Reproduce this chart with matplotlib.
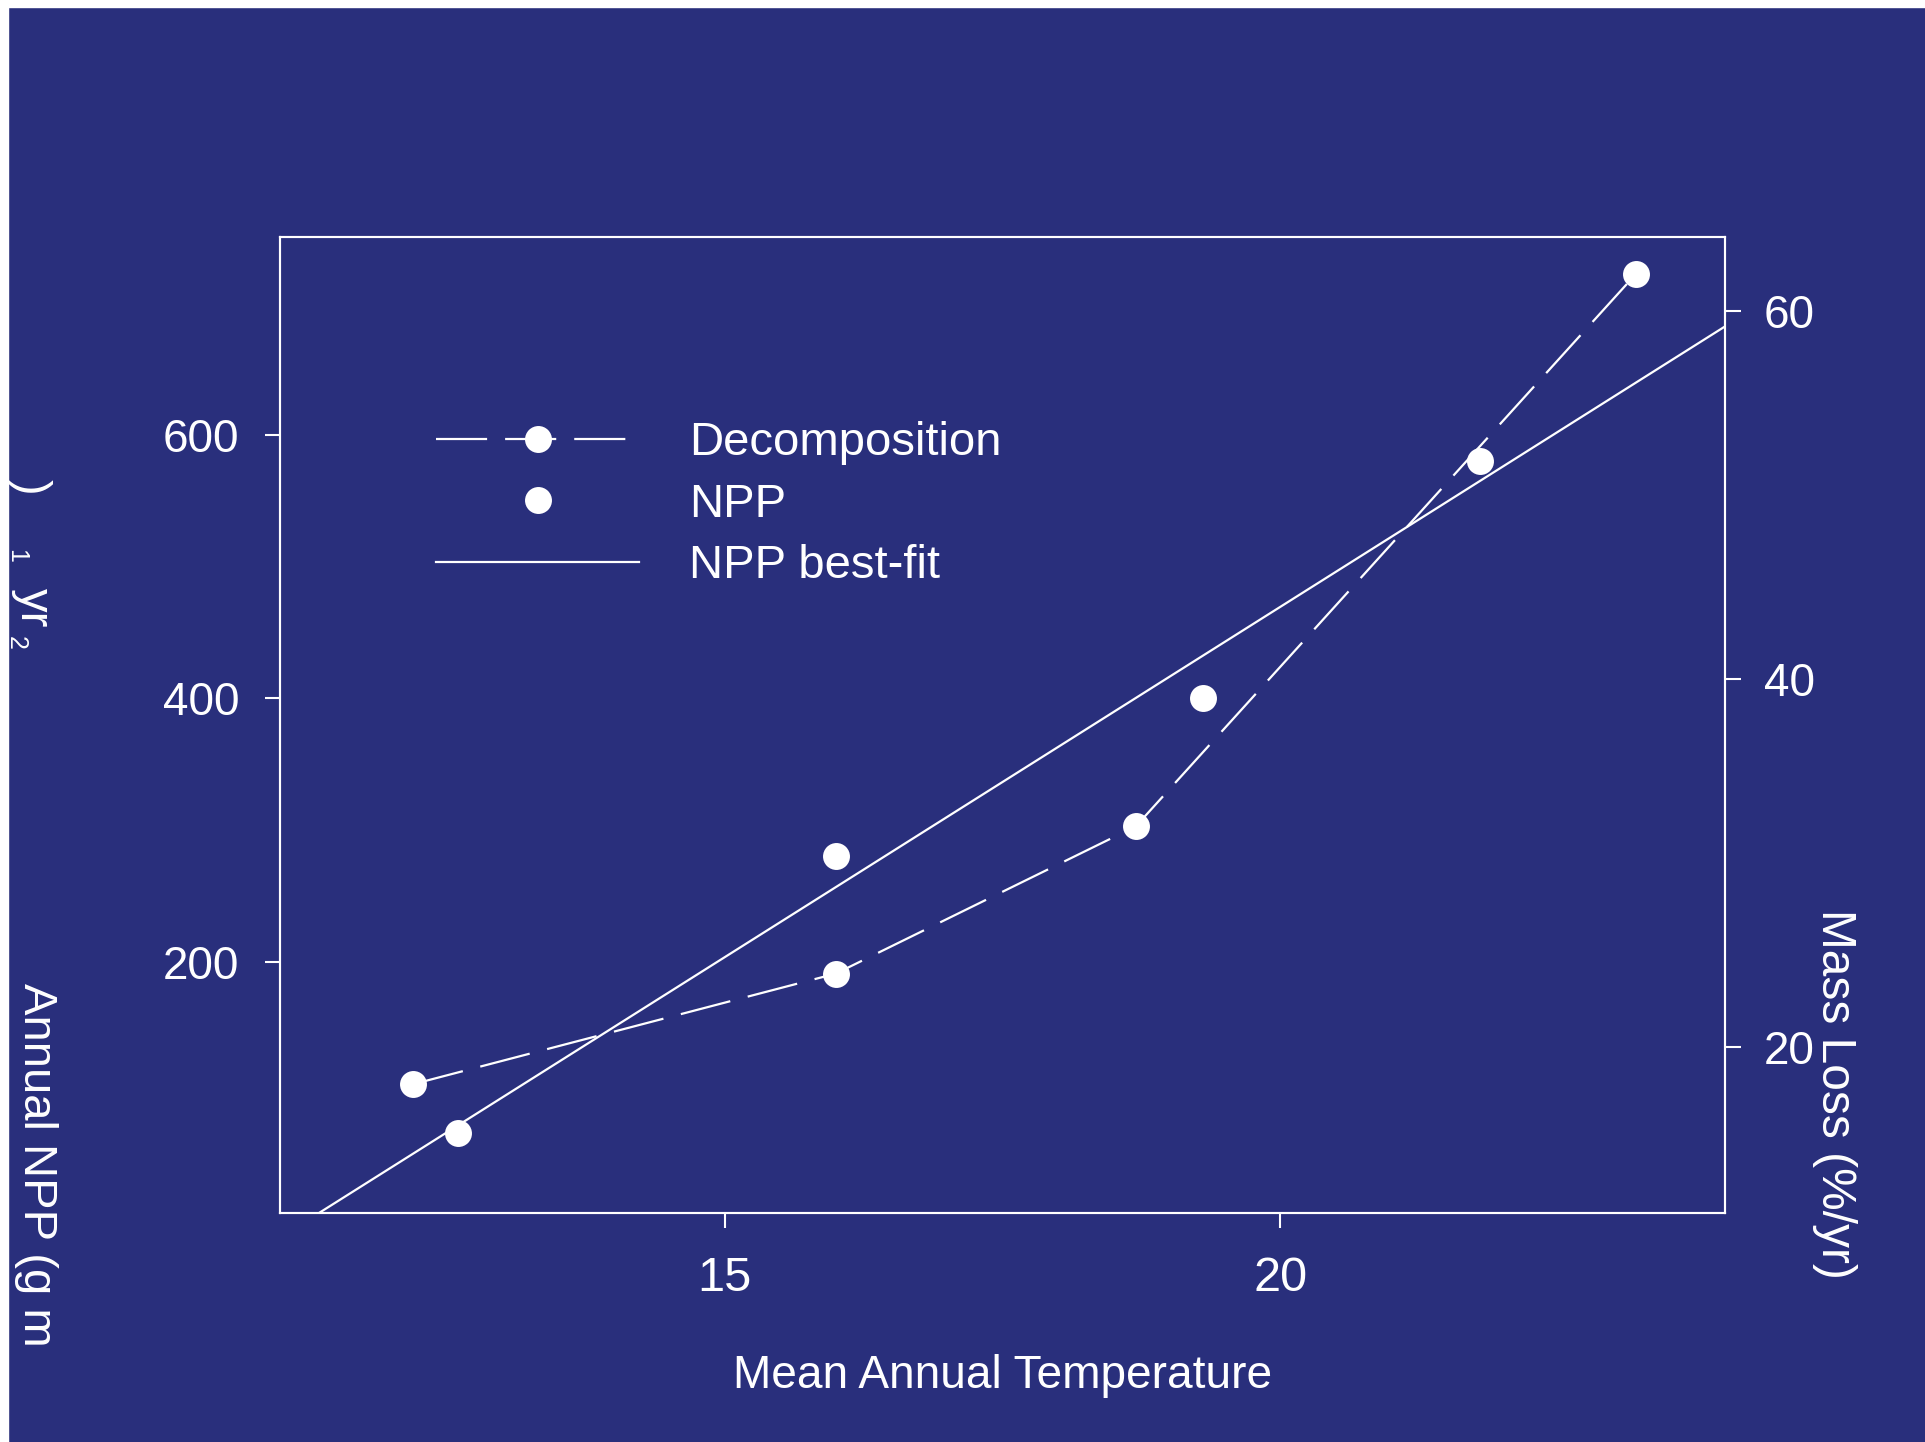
import numpy as np
import matplotlib.pyplot as plt
from matplotlib.lines import Line2D
from matplotlib.patches import Rectangle

plt.rcParams['font.family'] = ['Liberation Sans', 'DejaVu Sans']

navy = '#292f7c'

# data
decomp_temp = [12.2, 16.0, 18.7, 23.2]
decomp_loss = [18, 24, 32, 62]
npp_temp = [12.6, 16.0, 19.3, 21.8]
npp_vals = [70, 280, 400, 580]

x_ticks = [15, 20]
npp_ticks = [200, 400, 600]
loss_ticks = [20, 40, 60]

W, H = 1925, 1442
fig = plt.figure(figsize=(W / 100, H / 100), dpi=100, facecolor=navy)
ax = fig.add_axes([280 / W, 1 - 1213 / H, 1445 / W, 976 / H])
ax.set_facecolor(navy)
ax.set_xlim(11.0, 24.0)
ax.set_ylim(9.5, 750)
ax.set_xticks(x_ticks)
ax.set_yticks(npp_ticks)

# NPP points and best-fit line
ax.plot(npp_temp, npp_vals, 'o', color='white', ms=19.4, mew=0)
slope, icpt = np.polyfit(npp_temp, npp_vals, 1)
ax.axline((0, icpt), slope=slope, color='white', lw=1.6)

# decomposition on the right axis
ax2 = ax.twinx()
ax2.set_ylim(11, 64)
ax2.set_yticks(loss_ticks)
ax2.plot(decomp_temp, decomp_loss, color='white', lw=1.6, dashes=(23, 8.1),
         marker='o', ms=19.4, mew=0)

for a in (ax, ax2):
    for s in a.spines.values():
        s.set_color('white')
        s.set_linewidth(1.5)
ax.tick_params(axis='both', colors='white', length=10.8, width=1.5, labelsize=33)
ax.tick_params(axis='y', pad=18.7)
ax.tick_params(axis='x', pad=20, labelsize=35)
ax2.tick_params(axis='y', colors='white', length=11.5, width=1.5, labelsize=33, pad=16.5)

handles = [
    Line2D([], [], color='white', lw=1.6, dashes=(23, 8.1), marker='o', ms=19.4, mew=0),
    Line2D([], [], color='white', ls='none', marker='o', ms=19.4, mew=0),
    Line2D([], [], color='white', lw=1.6),
]
leg = ax2.legend(handles, ['Decomposition', 'NPP', 'NPP best-fit'],
                 loc='upper left', bbox_to_anchor=(0.108, 0.811), frameon=False,
                 fontsize=34, labelcolor='white', borderpad=0, borderaxespad=0,
                 handlelength=4.3, handletextpad=1.05, labelspacing=0.37, numpoints=1)

# axis titles
fig.text(1002.5 / W, 1 - 1388 / H, 'Mean Annual Temperature', ha='center',
         va='baseline', fontsize=33.1, color='white')
fig.text(1834 / W, 1 - 909 / H, 'Mass Loss (%/yr)', rotation=270, ha='center',
         va='top', fontsize=34.5, color='white')
fig.text(36 / W, 1 - 983 / H, 'Annual NPP (g m', rotation=270, ha='center',
         va='top', fontsize=34, color='white')
# stray pieces of the left label near the top
fig.text(30 / W, 1 - 487 / H, ')', rotation=270, ha='center', va='center',
         fontsize=34, color='white')
fig.text(16 / W, 1 - 556 / H, '1', rotation=270, ha='center', va='center',
         fontsize=18, color='white')
fig.text(33 / W, 1 - 608 / H, 'yr', rotation=270, ha='center', va='center',
         fontsize=34, color='white')
fig.text(16 / W, 1 - 643 / H, '2', rotation=270, ha='center', va='center',
         fontsize=18, color='white')

# white strips on the left and top edges
fig.add_artist(Rectangle((0, 0), 8 / W, 1, transform=fig.transFigure,
                         color='white', zorder=100))
fig.add_artist(Rectangle((0, 1 - 7 / H), 1, 7 / H, transform=fig.transFigure,
                         color='white', zorder=100))

fig.savefig('out.png', dpi=100, facecolor=navy)
